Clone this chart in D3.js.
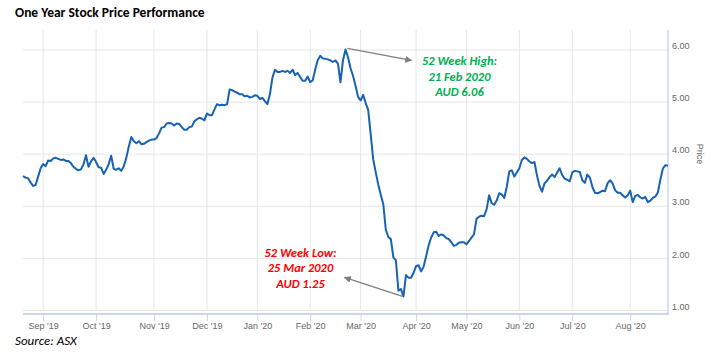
<!DOCTYPE html>
<html>
<head>
<meta charset="utf-8">
<script src="https://cdn.jsdelivr.net/npm/d3@7"></script>
<style>
  body { margin: 0; background: #fff; }
  svg { display: block; }
</style>
</head>
<body>
<svg width="711" height="353"></svg>
<script>
// ASX trading days, Aug 2019 - Aug 2020 (weekends and exchange holidays removed)
const startDate = "2019-08-21";
const endDate = "2020-08-24";
const holidays = ["2019-12-25", "2019-12-26", "2020-01-01", "2020-01-27",
                  "2020-04-10", "2020-04-13", "2020-06-08"];

// closing price, AUD, one per trading day
const prices = [
  3.58,3.55,3.54,3.46,3.39,3.41,3.57,3.73,3.81,3.77,
  3.88,3.87,3.92,3.93,3.91,3.89,3.90,3.87,3.87,3.83,
  3.76,3.72,3.69,3.71,3.80,3.98,3.76,3.86,3.93,3.85,
  3.75,3.74,3.62,3.70,3.81,3.97,3.72,3.70,3.73,3.68,
  3.77,3.93,4.15,4.33,4.25,4.21,4.25,4.19,4.20,4.23,
  4.26,4.28,4.28,4.31,4.40,4.51,4.52,4.59,4.60,4.59,
  4.55,4.59,4.58,4.52,4.47,4.47,4.52,4.53,4.63,4.67,
  4.70,4.68,4.65,4.78,4.75,4.75,4.86,4.96,4.94,4.95,
  4.94,4.96,5.24,5.23,5.20,5.18,5.15,5.15,5.11,5.12,
  5.09,5.10,5.13,5.12,5.06,5.08,5.02,4.96,5.15,5.47,
  5.62,5.58,5.58,5.60,5.58,5.60,5.56,5.62,5.52,5.56,
  5.48,5.41,5.41,5.49,5.38,5.42,5.63,5.81,5.89,5.84,
  5.83,5.82,5.80,5.77,5.80,5.74,5.38,5.80,6.01,5.86,
  5.65,5.50,5.31,5.10,5.03,5.14,4.98,4.85,4.38,3.90,
  3.65,3.42,3.22,3.04,2.55,2.41,2.37,2.02,1.96,1.38,
  1.41,1.27,1.68,1.63,1.63,1.72,1.85,1.87,1.75,1.84,
  2.04,2.25,2.40,2.50,2.51,2.43,2.46,2.44,2.39,2.37,
  2.31,2.24,2.26,2.30,2.31,2.31,2.27,2.33,2.40,2.46,
  2.76,2.80,2.82,2.81,2.94,3.21,3.06,3.03,3.11,3.25,
  3.23,3.16,3.37,3.67,3.69,3.57,3.65,3.73,3.89,3.94,
  3.91,3.86,3.83,3.85,3.59,3.39,3.28,3.44,3.49,3.56,
  3.61,3.56,3.65,3.73,3.60,3.53,3.51,3.48,3.65,3.68,
  3.67,3.66,3.50,3.45,3.61,3.55,3.37,3.26,3.25,3.27,
  3.30,3.29,3.44,3.50,3.44,3.31,3.26,3.26,3.21,3.17,
  3.21,3.30,3.08,3.20,3.22,3.17,3.15,3.18,3.08,3.11,
  3.16,3.19,3.27,3.52,3.73,3.79,3.78
];

const yTicks = [1, 2, 3, 4, 5, 6];
const titleText = "One Year Stock Price Performance";
const sourceText = "Source: ASX";
const highNote = ["52 Week High:", "21 Feb 2020", "AUD 6.06"];
const lowNote = ["52 Week Low:", "25 Mar 2020", "AUD 1.25"];

const svg = d3.select("svg");
const labelFont = "'Liberation Sans', Arial, sans-serif";
const noteFont = "Carlito, Calibri, Lato, sans-serif";

const parse = d3.timeParse("%Y-%m-%d");
const fmt = d3.timeFormat("%Y-%m-%d");
const days = d3.timeDay.range(parse(startDate), d3.timeDay.offset(parse(endDate), 1))
  .filter(d => d.getDay() % 6 !== 0 && !holidays.includes(fmt(d)));

// first trading day of each month -> tick
const monthIdx = d3.range(1, days.length)
  .filter(i => days[i].getMonth() !== days[i - 1].getMonth());

const plotLeft = 23, plotRight = 668, plotTop = 30, plotBottom = 310.5;

// ordinal-style axis: each trading day takes the same width
const x = d3.scaleLinear().domain([0, prices.length - 1]).range([plotLeft, plotRight]);
const y = d3.scaleLinear().domain([1, 6]).range([plotBottom, 50]);

// grid
svg.append("g").selectAll("line")
  .data(monthIdx).enter().append("line")
    .attr("x1", d => x(d)).attr("x2", d => x(d))
    .attr("y1", plotTop).attr("y2", plotBottom)
    .style("stroke", "#e6e6e6").style("stroke-width", 1);

svg.append("g").selectAll("line")
  .data(yTicks).enter().append("line")
    .attr("x1", plotLeft).attr("x2", plotRight)
    .attr("y1", d => y(d)).attr("y2", d => y(d))
    .style("stroke", "#e6e6e6").style("stroke-width", 1);

// axis lines
svg.append("line")
  .attr("x1", plotLeft).attr("x2", plotRight + 1).attr("y1", 314).attr("y2", 314)
  .style("stroke", "#ccd6eb").style("stroke-width", 2);
svg.append("line")
  .attr("x1", plotRight).attr("x2", plotRight).attr("y1", plotTop).attr("y2", 313)
  .style("stroke", "#ccd6eb").style("stroke-width", 1.5);

// x axis
const xAxis = d3.axisBottom(x)
  .tickValues(monthIdx)
  .tickSize(7)
  .tickPadding(2)
  .tickFormat(i => d3.timeFormat("%b '%y")(days[i]));

const gx = svg.append("g").attr("transform", "translate(0,314)").call(xAxis);
gx.select(".domain").remove();
gx.selectAll(".tick line").style("stroke", "#ccd6eb");
gx.selectAll(".tick text")
  .style("font-family", labelFont).style("font-size", "9px").style("fill", "#666");

// y axis labels (right side)
const yAxis = d3.axisRight(y)
  .tickValues(yTicks)
  .tickSize(0)
  .tickPadding(4)
  .tickFormat(d3.format(".2f"));
const gy = svg.append("g").attr("transform", "translate(" + plotRight + ",0)").call(yAxis);
gy.select(".domain").remove();
gy.selectAll(".tick text")
  .attr("dy", "-0.15em")
  .style("font-family", labelFont).style("font-size", "9px").style("fill", "#666");

svg.append("text")
  .attr("transform", "translate(697,154) rotate(90)")
  .attr("text-anchor", "middle")
  .style("font-family", labelFont).style("font-size", "9px").style("fill", "#666")
  .text("Price");

// price line
const line = d3.line()
  .x((d, i) => x(i))
  .y(d => y(d));

svg.append("path")
  .datum(prices)
  .attr("d", line)
  .style("fill", "none")
  .style("stroke", "#1762b3")
  .style("stroke-width", 2)
  .style("stroke-linejoin", "round");

// annotations
svg.append("defs").append("marker")
  .attr("id", "arrow")
  .attr("viewBox", "0 0 10 10")
  .attr("refX", 9).attr("refY", 5)
  .attr("markerWidth", 7).attr("markerHeight", 7)
  .attr("markerUnits", "userSpaceOnUse")
  .attr("orient", "auto")
  .append("path")
    .attr("d", "M0,0 L10,5 L0,10 z")
    .style("fill", "#7f7f7f");

const hiIdx = d3.maxIndex(prices);
const loIdx = d3.minIndex(prices);

svg.append("line")
  .attr("x1", x(hiIdx) + 2).attr("y1", y(prices[hiIdx]) - 1)
  .attr("x2", x(hiIdx) + 66).attr("y2", y(prices[hiIdx]) + 11)
  .style("stroke", "#7f7f7f").style("stroke-width", 1.3)
  .attr("marker-end", "url(#arrow)");

svg.append("line")
  .attr("x1", x(loIdx) - 1).attr("y1", y(prices[loIdx]))
  .attr("x2", x(loIdx) - 59).attr("y2", y(prices[loIdx]) - 19)
  .style("stroke", "#7f7f7f").style("stroke-width", 1.3)
  .attr("marker-end", "url(#arrow)");

function note(lines, cx, y0, color) {
  svg.append("g").selectAll("text")
    .data(lines).enter().append("text")
      .attr("x", cx)
      .attr("y", (d, i) => y0 + i * 15.5)
      .attr("text-anchor", "middle")
      .style("font-family", noteFont)
      .style("font-size", "12.5px")
      .style("font-weight", "bold")
      .style("font-style", "italic")
      .style("fill", color)
      .text(d => d);
}
note(highNote, 459.5, 65, "#00b050");
note(lowNote, 300.5, 256.5, "#ff0000");

// title and source
svg.append("text")
  .attr("x", 15).attr("y", 17)
  .style("font-family", noteFont)
  .style("font-size", "13.5px")
  .style("font-weight", "bold")
  .style("fill", "#000")
  .text(titleText);

svg.append("text")
  .attr("x", 15).attr("y", 344.5)
  .style("font-family", noteFont)
  .style("font-size", "13px")
  .style("font-style", "italic")
  .style("fill", "#000")
  .text(sourceText);
</script>
</body>
</html>
